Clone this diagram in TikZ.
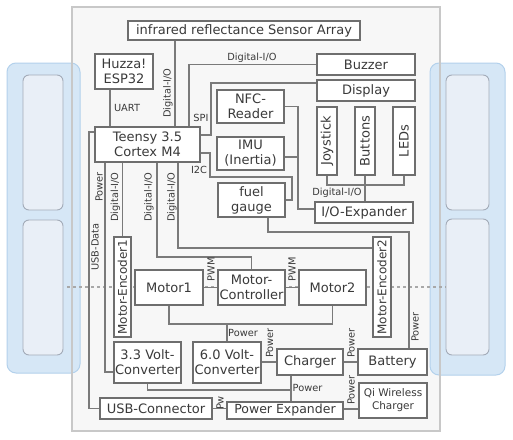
\documentclass[tikz,border=0pt]{standalone}
\usepackage{fontspec}
\setmainfont{DejaVu Sans}
\usepackage{graphicx}
\definecolor{boxline}{HTML}{6E6E6E}
\definecolor{wireline}{HTML}{7A7A7A}
\definecolor{txt}{HTML}{3A3A3A}
\definecolor{framefill}{HTML}{F7F7F7}
\definecolor{frameline}{HTML}{C8C8C8}
\definecolor{panelfill}{HTML}{D6E7F6}
\definecolor{panelline}{HTML}{B3D1EC}
\definecolor{slotfill}{HTML}{E9EFF7}
\definecolor{slotline}{HTML}{A3ABB8}
\definecolor{dotline}{HTML}{A8A8A8}
\begin{document}
\begin{tikzpicture}[x=1pt,y=-1pt,
  box/.style={draw=boxline, line width=1.2pt, fill=white, text=txt, inner sep=0pt, align=center, font=\fontsize{13}{15}\selectfont},
  wire/.style={draw=wireline, line width=1.2pt},
  lab/.style={text=txt, inner sep=0pt, font=\fontsize{9.8}{11}\selectfont},
  vlab/.style={lab, rotate=90},
  panel/.style={fill=panelfill, draw=panelline, line width=1pt, rounded corners=9pt},
  slot/.style={fill=slotfill, draw=slotline, line width=0.9pt, rounded corners=6pt}]
\useasboundingbox (0,0) rectangle (513,439);
\fill[white] (0,0) rectangle (513,439);
% frame
\fill[framefill] (72,7) rectangle (440,431);
% side panels
\draw[panel] (7,63) rectangle (80,373);
\draw[slot] (23,75) rectangle (63,210);
\draw[slot] (23,220) rectangle (63,355);
\draw[panel] (430,63) rectangle (505,375);
\draw[slot] (446,75) rectangle (489,210);
\draw[slot] (446,219) rectangle (489,355);
\draw[frameline, line width=1.2pt] (72,7) rectangle (440,431);
% axle line
\draw[dotline, line width=2pt, dash pattern=on 3pt off 3pt] (67,287) -- (446,287);

% boxes
\node[box, minimum width=232pt, minimum height=19pt] (sensor) at (244,30.5) {infrared reflectance Sensor Array};
\node[box, minimum width=58pt, minimum height=35pt] (esp) at (124,71.5) {Huzza!\\ESP32};
\node[box, minimum width=105pt, minimum height=35pt] (teensy) at (147.5,144.5) {Teensy 3.5\\Cortex M4};
\node[box, minimum width=98pt, minimum height=21pt] (buzzer) at (366,64.5) {Buzzer};
\node[box, minimum width=98pt, minimum height=21pt] (display) at (366,90.5) {Display};
\node[box, minimum width=67pt, minimum height=33pt] (nfc) at (250.5,106.5) {NFC-\\Reader};
\node[box, minimum width=67pt, minimum height=33pt] (imu) at (250.5,153.5) {IMU\\(Inertia)};
\node[box, minimum width=20pt, minimum height=68pt] (joy) at (327,141) {\rotatebox{90}{Joystick}};
\node[box, minimum width=20pt, minimum height=68pt] (btn) at (365,141) {\rotatebox{90}{Buttons}};
\node[box, minimum width=22pt, minimum height=68pt] (leds) at (404,141) {\rotatebox{90}{LEDs}};
\node[box, minimum width=67pt, minimum height=34pt] (fuel) at (251.5,200) {fuel\\gauge};
\node[box, minimum width=98pt, minimum height=21pt] (ioexp) at (364,212.5) {I/O-Expander};
\node[box, minimum width=17pt, minimum height=100pt, font=\fontsize{12}{14}\selectfont] (enc1) at (122.5,287) {\rotatebox{90}{Motor-Encoder1}};
\node[box, minimum width=68pt, minimum height=35pt] (motor1) at (169,287.5) {Motor1};
\node[box, minimum width=67pt, minimum height=35pt] (mctrl) at (251.5,287.5) {Motor-\\Controller};
\node[box, minimum width=67pt, minimum height=35pt] (motor2) at (332.5,287.5) {Motor2};
\node[box, minimum width=18pt, minimum height=100pt, font=\fontsize{12}{14}\selectfont] (enc2) at (382,287) {\rotatebox{90}{Motor-Encoder2}};
\node[box, minimum width=67pt, minimum height=41pt] (conv33) at (147.5,362.5) {3.3 Volt-\\Converter};
\node[box, minimum width=68pt, minimum height=41pt] (conv60) at (227,362.5) {6.0 Volt-\\Converter};
\node[box, minimum width=66pt, minimum height=26pt] (charger) at (310,362) {Charger};
\node[box, minimum width=69pt, minimum height=26pt] (battery) at (392.5,362) {Battery};
\node[box, minimum width=68pt, minimum height=35pt, font=\fontsize{10.5}{13}\selectfont] (qi) at (393,400.5) {Qi Wireless\\Charger};
\node[box, minimum width=116pt, minimum height=17pt, font=\fontsize{12.5}{14}\selectfont] (pexp) at (285,410.5) {Power Expander};
\node[box, minimum width=112pt, minimum height=21pt] (usb) at (156,408.5) {USB-Connector};

% connectors
\draw[wire] (sensor.south -| 175,0) -- (teensy.north -| 175,0);
\draw[wire] (esp.south -| 110,0) -- (teensy.north -| 110,0);
\draw[wire] (teensy.north -| 189,0) |- (buzzer.west);
\draw[wire] (teensy.east |- 0,135) -| (211,83) -- (display.west |- 0,83);
\draw[wire] (nfc.east) -| (298,209) -- (ioexp.west |- 0,209);
\draw[wire] (imu.east |- 0,157) -- (298,157);
\draw[wire] (teensy.east |- 0,153) -| (210,177) -| (292,200) -- (fuel.east);
\draw[wire] (fuel.south -| 268,0) |- (409,232) -- (battery.north -| 409,0);
\draw[wire] (joy.south) -- (joy.south |- 0,185) -- (leds.south |- 0,185) -- (leds.south);
\draw[wire] (btn.south) -- (ioexp.north -| btn.south);
\draw[wire] (teensy.west |- 0,132) -| (usb.west -| 89,0) -- (usb.west);
\draw[wire] (teensy.south -| 105,0) |- (conv33.west |- 0,372);
\draw[wire] (teensy.south -| 122.5,0) -- (enc1.north);
\draw[wire] (teensy.south -| 157,0) |- (mctrl.north |- 0,257) -- (mctrl.north);
\draw[wire] (teensy.south -| 178,0) |- (enc2.west |- 0,248);
\draw[wire] (motor1.east) -- (mctrl.west);
\draw[wire] (mctrl.east) -- (motor2.west);
\draw[wire] (motor1.south) |- (motor2.south |- 0,324) -- (motor2.south);
\draw[wire] (conv60.north) -- (conv60.north |- 0,324);
\draw[wire] (conv60.east |- charger.west) -- (charger.west);
\draw[wire] (charger.east) -- (battery.west);
\draw[wire] (charger.south -| 291,0) -- (pexp.north -| 291,0);
\draw[wire] (conv33.south) |- (291,390);
\draw[wire] (usb.east) -- (pexp.west |- usb.east);
\draw[wire] (pexp.east |- 0,409) -- (qi.west |- 0,409);

% labels
\node[vlab] (l1) at (168,93) {Digital-I/O};
\node[lab] (l2) at (127,108) {UART};
\node[lab] (l3) at (252,58) {Digital-I/O};
\node[lab] (l4) at (201,118) {SPI};
\node[lab] (l5) at (199,170) {I2C};
\node[lab] (l6) at (337,193) {Digital-I/O};
\node[vlab] (l7) at (415,327) {Power};
\node[vlab] (l8) at (95,247) {USB-Data};
\node[vlab] (l9) at (99,187) {Power};
\node[vlab] (l10) at (115.5,197) {Digital-I/O};
\node[vlab] (l11) at (149,197) {Digital-I/O};
\node[vlab] (l12) at (172,197) {Digital-I/O};
\node[vlab] (l13) at (211,269) {PWM};
\node[vlab] (l14) at (292,269) {PWM};
\node[lab] (l15) at (243,333) {Power};
\node[vlab] (l16) at (269.5,343) {Power};
\node[vlab] (l17) at (351,343) {Power};
\node[lab] (l18) at (307.5,388) {Power};
\node[vlab] (l19) at (351,390) {Power};
\node[vlab] (l20) at (220,403) {Pw};
\end{tikzpicture}
\end{document}
